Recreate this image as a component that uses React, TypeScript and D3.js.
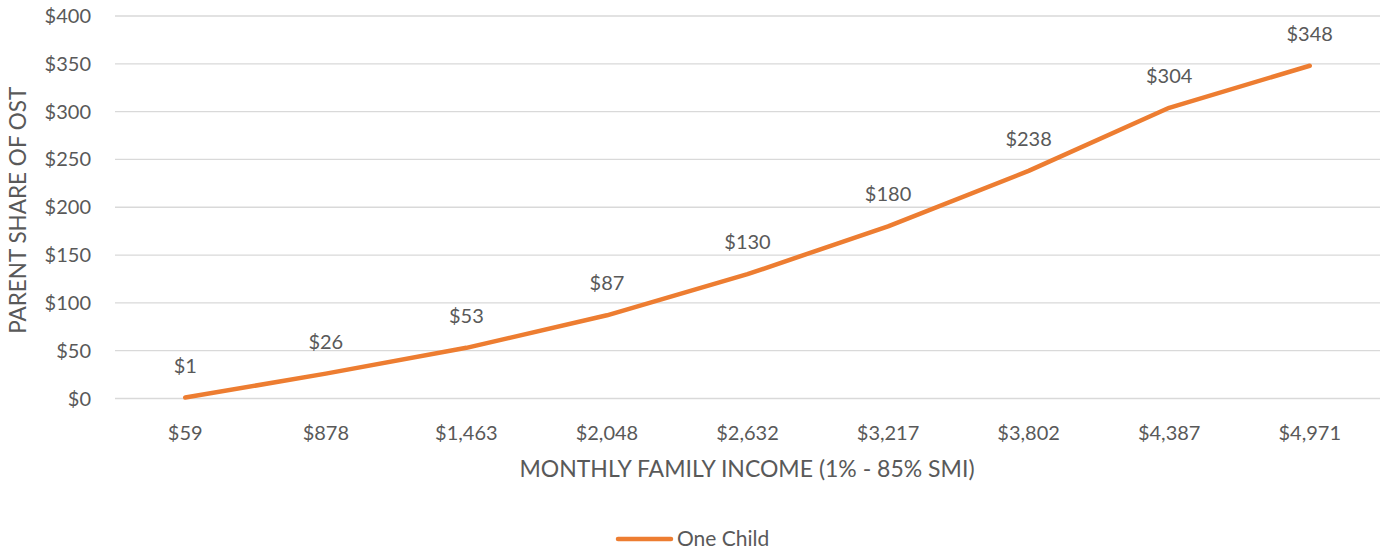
import React from "react";
import * as d3 from "d3";

const categories = ["$59", "$878", "$1,463", "$2,048", "$2,632", "$3,217", "$3,802", "$4,387", "$4,971"];
const values = [1, 26, 53, 87, 130, 180, 238, 304, 348];
const yTicks = [0, 50, 100, 150, 200, 250, 300, 350, 400];
const seriesName = "One Child";
const xTitle = "MONTHLY FAMILY INCOME (1% - 85% SMI)";
const yTitle = "PARENT SHARE OF OST";

const W = 1391;
const H = 556;
const left = 115;
const right = 1380;
const top = 16;
const bottom = 398.5;
const color = "#ED7D31";
const textColor = "#595959";
const font = "Lato, 'Open Sans', sans-serif";

export default function App() {
  const x = d3.scaleBand<string>().domain(categories).range([left, right]);
  const y = d3.scaleLinear().domain([0, 400]).range([bottom, top]);
  const line = d3
    .line<number>()
    .x((_, i) => (x(categories[i]) as number) + x.bandwidth() / 2)
    .y((d) => y(d));

  return (
    <svg width={W} height={H} style={{ position: "absolute", left: 0, top: 0 }} fontFamily={font}>
      {yTicks.map((t) => (
        <g key={t}>
          <line x1={left} x2={right} y1={y(t)} y2={y(t)} stroke="#d9d9d9" strokeWidth={1.3} />
          <text x={91} y={y(t)} dy="0.35em" textAnchor="end" fontSize={20} fill={textColor}>
            {"$" + t}
          </text>
        </g>
      ))}
      {categories.map((c) => (
        <text
          key={c}
          x={(x(c) as number) + x.bandwidth() / 2}
          y={440}
          textAnchor="middle"
          fontSize={20}
          fill={textColor}
        >
          {c}
        </text>
      ))}
      <path d={line(values) || ""} fill="none" stroke={color} strokeWidth={4.5} strokeLinecap="round" strokeLinejoin="round" />
      {values.map((v, i) => (
        <text
          key={i}
          x={(x(categories[i]) as number) + x.bandwidth() / 2}
          y={y(v) - 25}
          textAnchor="middle"
          fontSize={20}
          fill={textColor}
        >
          {"$" + v}
        </text>
      ))}
      <text x={747} y={477} textAnchor="middle" fontSize={23} fill={textColor}>
        {xTitle}
      </text>
      <text
        transform={`translate(26, ${(top + bottom) / 2 + 3}) rotate(-90)`}
        textAnchor="middle"
        fontSize={22.5}
        fill={textColor}
      >
        {yTitle}
      </text>
      <line x1={618} x2={671} y1={539} y2={539} stroke={color} strokeWidth={4.5} strokeLinecap="round" />
      <text x={677} y={539} dy="0.35em" fontSize={21} fill={textColor}>
        {seriesName}
      </text>
    </svg>
  );
}
